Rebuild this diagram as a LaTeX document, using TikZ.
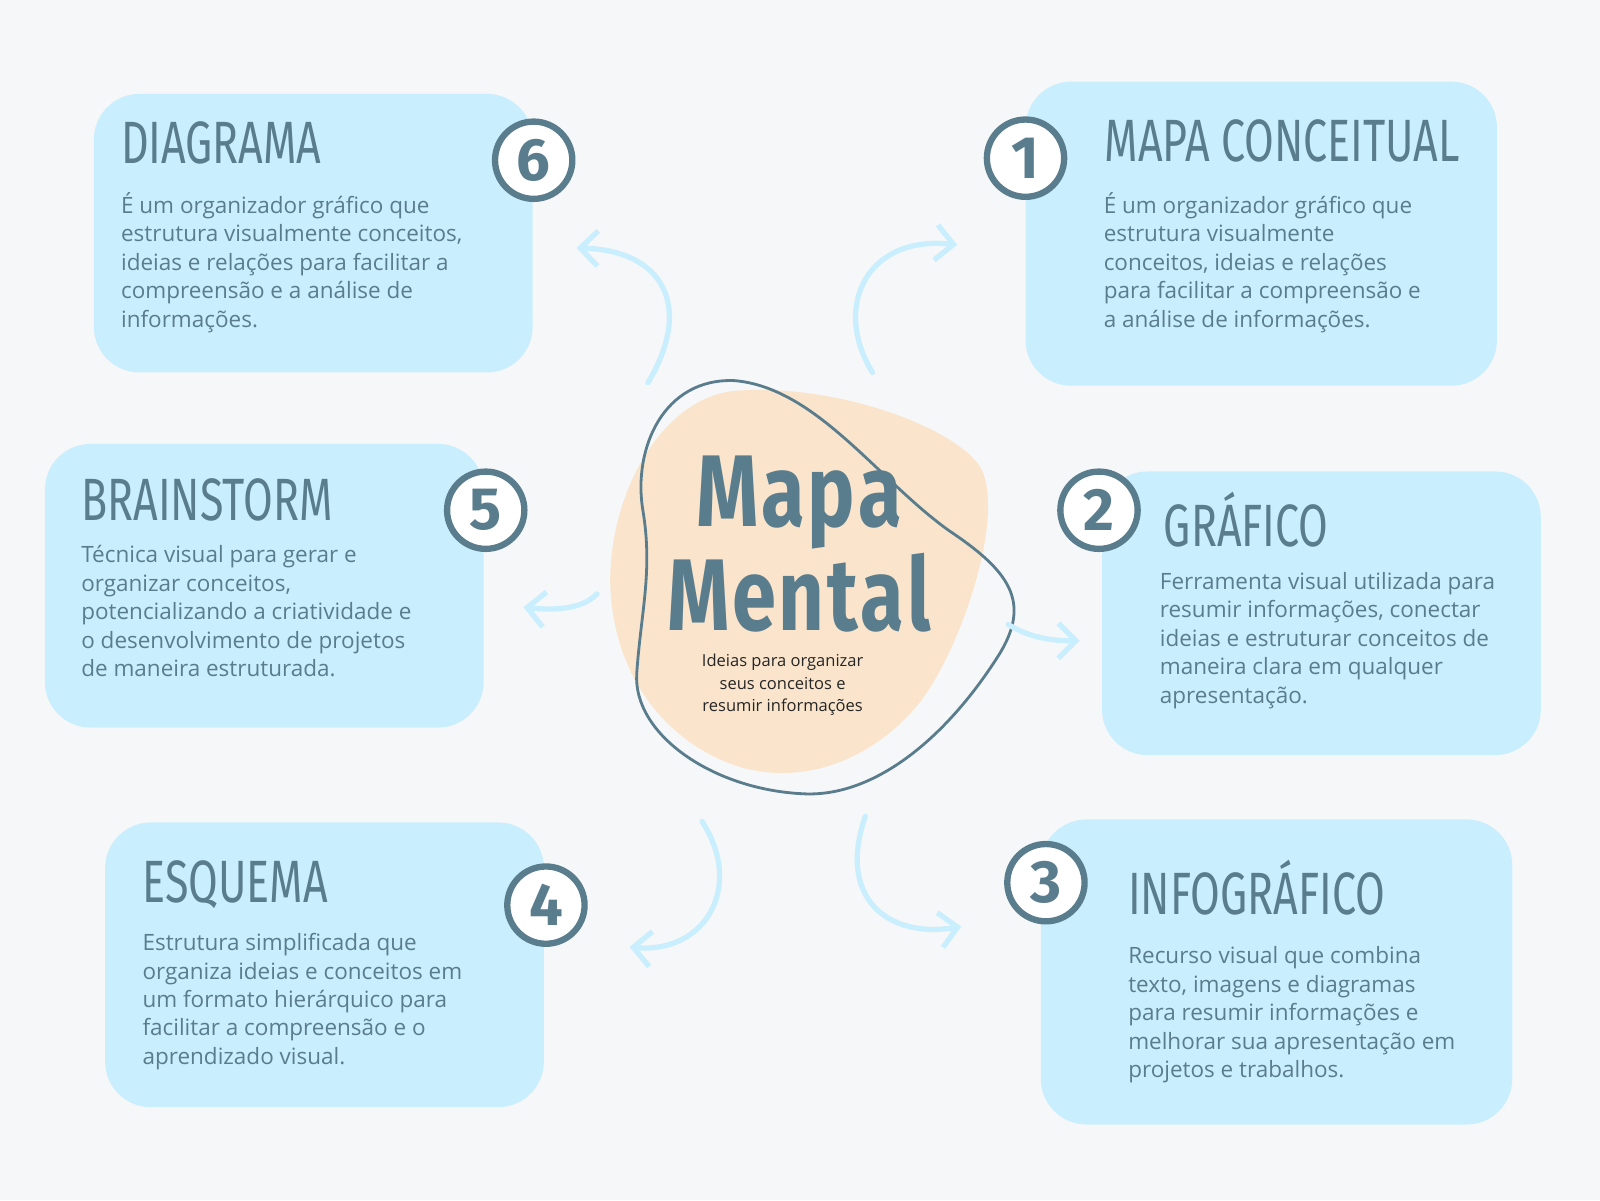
\documentclass[tikz,border=0pt]{standalone}
\usepackage{fontspec}
\setmainfont{Open Sans}
\newfontfamily\headf{Fira Sans}
\usetikzlibrary{arrows.meta}
\definecolor{boxc}{HTML}{C9EEFD}
\definecolor{txt}{HTML}{5A7D8E}
\definecolor{blob}{HTML}{FAE5CC}
\definecolor{bg}{HTML}{F6F7F8}
\tikzset{
 box/.style={fill=boxc,rounded corners=13pt},
 ttl/.style={anchor=base west,text=txt,inner sep=0pt,font=\headf\fontsize{17pt}{17pt}\selectfont},
 body/.style={anchor=north west,text=txt,inner sep=0pt,align=left,font=\fontsize{6.4pt}{8.1pt}\selectfont},
 num/.style={circle,draw=txt,line width=1.8pt,fill=white,minimum size=22pt,inner sep=0pt,text=txt,font=\headf\bfseries\fontsize{17pt}{17pt}\selectfont},
 arr/.style={draw=boxc,line width=1.5pt,line cap=round,-{Straight Barb[length=5pt,width=10pt,line width=1.5pt]}}
}
\newcommand{\ttext}[1]{\scalebox{0.72}[1]{#1}}
\begin{document}
\begin{tikzpicture}[x=0.010204cm,y=-0.010204cm]
\fill[bg] (0,0) rectangle (1568,1176);
\useasboundingbox (0,0) rectangle (1568,1176);
% boxes
\fill[box] (92,92) rectangle (522,365);
\fill[box] (1005,80) rectangle (1467,378);
\fill[box] (44,435) rectangle (474,713);
\fill[box] (1080,462) rectangle (1510,740);
\fill[box] (103,806) rectangle (533,1085);
\fill[box] (1020,803) rectangle (1482,1102);
% center
\fill[blob] (720,383) .. controls (820,375) and (940,420) .. (962,460)
 .. controls (985,510) and (940,640) .. (900,690)
 .. controls (850,750) and (780,770) .. (720,750)
 .. controls (650,725) and (600,660) .. (598,570)
 .. controls (598,480) and (650,390) .. (720,383) -- cycle;
\draw[txt,line width=0.8pt] (720,373) .. controls (800,380) and (860,470) .. (930,520)
 .. controls (990,560) and (1010,590) .. (980,640)
 .. controls (930,720) and (860,780) .. (790,778)
 .. controls (700,775) and (620,720) .. (624,660)
 .. controls (628,600) and (640,560) .. (630,500)
 .. controls (620,440) and (650,370) .. (720,373) -- cycle;
\node[text=txt,inner sep=0pt,align=center,font=\headf\bfseries\fontsize{29pt}{24pt}\selectfont] (title) at (783,533) {\scalebox{0.78}[1]{M\kern1pt a\kern1pt p\kern1pt a}\\\scalebox{0.78}[1]{M\kern1pt e\kern1pt n\kern1pt t\kern1pt a\kern1pt l}};
\node[inner sep=0pt,align=center,text=black!85,font=\fontsize{4.7pt}{6.4pt}\selectfont] (sub) at (767,671) {Ideias para organizar\\seus conceitos e\\resumir informações};
% titles
\node[ttl] (t6) at (118,160) {\ttext{DIAGRAMA}};
\node[ttl] (t1) at (1082,158) {\ttext{MAPA CONCEITUAL}};
\node[ttl] (t5) at (79,510) {\ttext{BRAINSTORM}};
\node[ttl] (t2) at (1140,536) {\ttext{GRÁFICO}};
\node[ttl] (t4) at (139,884) {\ttext{ESQUEMA}};
\node[ttl] (t3) at (1105,896) {\ttext{INFOGRÁFICO}};
% bodies
\node[body] (b6) at (118,188) {É um organizador gráfico que\\estrutura visualmente conceitos,\\ideias e relações para facilitar a\\compreensão e a análise de\\informações.};
\node[body] (b1) at (1081,188) {É um organizador gráfico que\\estrutura visualmente\\conceitos, ideias e relações\\para facilitar a compreensão e\\a análise de informações.};
\node[body] (b5) at (79,534) {Técnica visual para gerar e\\organizar conceitos,\\potencializando a criatividade e\\o desenvolvimento de projetos\\de maneira estruturada.};
\node[body] (b2) at (1136,560) {Ferramenta visual utilizada para\\resumir informações, conectar\\ideias e estruturar conceitos de\\maneira clara em qualquer\\apresentação.};
\node[body] (b4) at (139,914) {Estrutura simplificada que\\organiza ideias e conceitos em\\um formato hierárquico para\\facilitar a compreensão e o\\aprendizado visual.};
\node[body] (b3) at (1105,927) {Recurso visual que combina\\texto, imagens e diagramas\\para resumir informações e\\melhorar sua apresentação em\\projetos e trabalhos.};
% numbers
\node[num] (n6) at (523,157) {6};
\node[num] (n1) at (1005,155) {1};
\node[num] (n5) at (476,500) {5};
\node[num] (n2) at (1077,500) {2};
\node[num] (n4) at (535,887) {4};
\node[num] (n3) at (1025,865) {3};
% arrows
\coordinate (a6s) at (635,375); \coordinate (a6e) at (565,243);
\coordinate (a1s) at (855,365); \coordinate (a1e) at (938,240);
\coordinate (a5s) at (585,582); \coordinate (a5e) at (513,595);
\coordinate (a2s) at (988,612); \coordinate (a2e) at (1058,628);
\coordinate (a4s) at (688,805); \coordinate (a4e) at (617,928);
\coordinate (a3s) at (848,800); \coordinate (a3e) at (942,908);
\draw[arr] (a6s) .. controls (680,300) and (650,245) .. (a6e);
\draw[arr] (a1s) .. controls (815,300) and (850,230) .. (a1e);
\draw[arr] (a5s) .. controls (570,598) and (540,598) .. (a5e);
\draw[arr] (a2s) .. controls (1010,625) and (1030,628) .. (a2e);
\draw[arr] (a4s) .. controls (730,870) and (690,935) .. (a4e);
\draw[arr] (a3s) .. controls (820,880) and (870,920) .. (a3e);
\end{tikzpicture}
\end{document}
